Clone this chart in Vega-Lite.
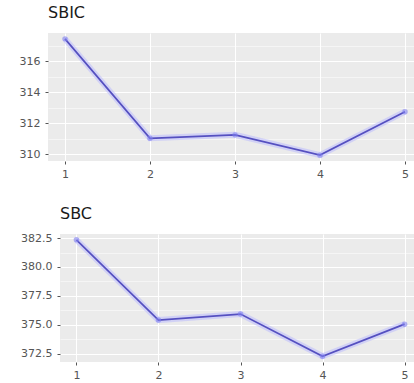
{
  "$schema": "https://vega.github.io/schema/vega-lite/v6.json",
  "padding": {"left": 0, "top": 4, "right": 0, "bottom": 0},
  "background": "white",
  "datasets": {
    "sbic": [
      {"k": 1, "value": 317.46},
      {"k": 2, "value": 311.03},
      {"k": 3, "value": 311.25},
      {"k": 4, "value": 309.94},
      {"k": 5, "value": 312.75}
    ],
    "sbc": [
      {"k": 1, "value": 382.35},
      {"k": 2, "value": 375.41},
      {"k": 3, "value": 375.93},
      {"k": 4, "value": 372.29},
      {"k": 5, "value": 375.06}
    ],
    "blank": [{"k": 0}]
  },
  "config": {
    "view": {"fill": "#EBEBEB", "stroke": null},
    "axis": {
      "domain": false,
      "gridColor": "white",
      "tickColor": "#555555",
      "tickSize": 3,
      "labelFont": "DejaVu Sans",
      "labelFontSize": 11,
      "labelColor": "#555555",
      "title": null
    },
    "title": {
      "font": "DejaVu Sans",
      "fontSize": 16,
      "fontWeight": "normal",
      "color": "#1a1a1a",
      "anchor": "start",
      "frame": "group",
      "offset": 6
    }
  },
  "spacing": 26,
  "vconcat": [
    {
      "title": "SBIC",
      "width": 374,
      "height": 128,
      "data": {"name": "sbic"},
      "encoding": {
        "x": {
          "field": "k", "type": "quantitative",
          "scale": {"domain": [0.8, 5.2], "nice": false, "zero": false},
          "axis": {
            "values": [1, 1.5, 2, 2.5, 3, 3.5, 4, 4.5, 5],
            "format": "d",
            "labelExpr": "datum.value % 1 == 0 ? datum.label : ''",
            "labelPadding": 4,
            "labelFlush": false,
            "gridWidth": {"condition": {"test": "datum.value % 1 == 0", "value": 1.1}, "value": 0.5},
            "tickOpacity": {"condition": {"test": "datum.value % 1 == 0", "value": 1}, "value": 0}
          }
        },
        "y": {
          "field": "value", "type": "quantitative",
          "scale": {"domain": [309.56, 317.84], "nice": false, "zero": false},
          "axis": {
            "values": [310, 311, 312, 313, 314, 315, 316, 317],
            "labelExpr": "datum.value % 2 == 0 ? datum.label : ''",
            "labelPadding": 5,
            "minExtent": 48,
            "maxExtent": 48,
            "gridWidth": {"condition": {"test": "datum.value % 2 == 0", "value": 1.1}, "value": 0.5},
            "tickOpacity": {"condition": {"test": "datum.value % 2 == 0", "value": 1}, "value": 0}
          }
        }
      },
      "layer": [
        {"mark": {"type": "line", "color": "#b8b8ff", "strokeWidth": 6, "opacity": 0.5}},
        {"mark": {"type": "line", "color": "#5550c0", "strokeWidth": 1.7}},
        {"mark": {"type": "point", "filled": true, "color": "#8080ee", "size": 30, "opacity": 0.6}}
      ]
    },
    {
      "spacing": -32,
      "hconcat": [
        {
          "width": 1,
          "height": 1,
          "data": {"name": "blank"},
          "view": {"fill": null, "stroke": null},
          "mark": {"type": "point", "opacity": 0}
        },
        {
          "title": "SBC",
          "width": 361,
          "height": 128,
          "data": {"name": "sbc"},
          "encoding": {
            "x": {
              "field": "k", "type": "quantitative",
              "scale": {"domain": [0.8, 5.2], "nice": false, "zero": false},
              "axis": {
                "values": [1, 1.5, 2, 2.5, 3, 3.5, 4, 4.5, 5],
                "format": "d",
                "labelExpr": "datum.value % 1 == 0 ? datum.label : ''",
                "labelPadding": 4,
                "labelFlush": false,
                "gridWidth": {"condition": {"test": "datum.value % 1 == 0", "value": 1.1}, "value": 0.5},
                "tickOpacity": {"condition": {"test": "datum.value % 1 == 0", "value": 1}, "value": 0}
              }
            },
            "y": {
              "field": "value", "type": "quantitative",
              "scale": {"domain": [371.79, 382.85], "nice": false, "zero": false},
              "axis": {
                "values": [372.5, 373.75, 375, 376.25, 377.5, 378.75, 380, 381.25, 382.5],
                "format": ".1f",
                "labelExpr": "datum.value % 2.5 == 0 ? datum.label : ''",
                "labelPadding": 5,
                "gridWidth": {"condition": {"test": "datum.value % 2.5 == 0", "value": 1.1}, "value": 0.5},
                "tickOpacity": {"condition": {"test": "datum.value % 2.5 == 0", "value": 1}, "value": 0}
              }
            }
          },
          "layer": [
            {"mark": {"type": "line", "color": "#b8b8ff", "strokeWidth": 6, "opacity": 0.5}},
            {"mark": {"type": "line", "color": "#5550c0", "strokeWidth": 1.7}},
            {"mark": {"type": "point", "filled": true, "color": "#8080ee", "size": 30, "opacity": 0.6}}
          ]
        }
      ]
    }
  ]
}
